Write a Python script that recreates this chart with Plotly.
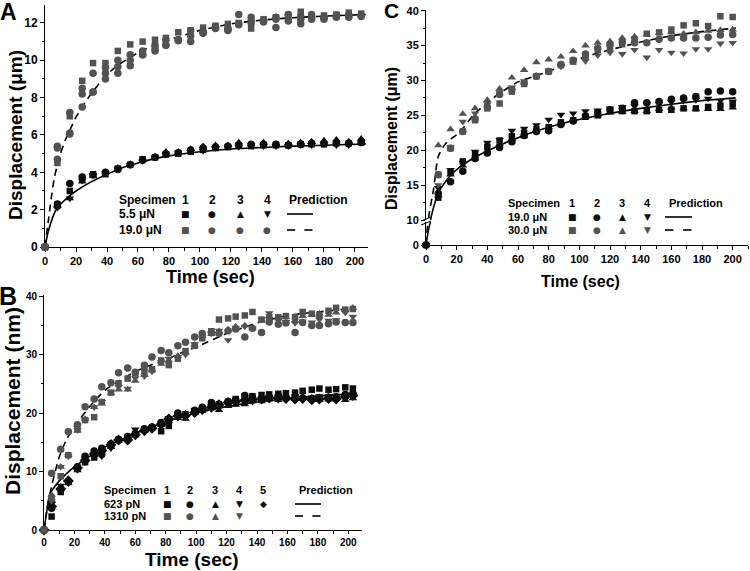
import plotly.graph_objects as go

W, H = 750, 571
FONT = "Liberation Sans"
SYMF = "DejaVu Sans"
BLACK = "#0d0d0d"
GREY = "#525252"

# ---------------- Panel A data ----------------
tA = [0, 8, 16, 24, 31, 39, 47, 55, 63, 71, 78, 86, 94, 102, 110, 118, 125, 133, 141, 149, 157, 165, 172, 180, 188, 196, 204]
A5_s1 = [0, 2.2, 3.0, 3.6, 3.9, 3.9, 4.2, 4.4, 4.7, 4.8, 4.95, 5.0, 5.1, 5.2, 5.3, 5.35, 5.45, 5.4, 5.45, 5.45, 5.45, 5.5, 5.5, 5.5, 5.55, 5.55, 5.6]
A5_s2 = [0, 2.3, 3.4, 3.75, 3.85, 4.0, 4.15, 4.4, 4.65, 4.8, 5.0, 5.05, 5.2, 5.3, 5.35, 5.4, 5.45, 5.5, 5.5, 5.5, 5.45, 5.5, 5.55, 5.55, 5.6, 5.55, 5.6]
A5_s3 = [0, 2.2, 2.6, 3.5, 3.8, 4.0, 4.25, 4.45, 4.7, 4.85, 5.1, 5.1, 5.25, 5.4, 5.45, 5.45, 5.6, 5.5, 5.6, 5.5, 5.55, 5.6, 5.65, 5.7, 5.75, 5.65, 5.8]
A5_s4 = [0, 2.1, 2.6, 3.55, 3.85, 3.95, 4.2, 4.4, 4.6, 4.8, 4.95, 5.05, 5.1, 5.15, 5.3, 5.35, 5.35, 5.45, 5.4, 5.4, 5.4, 5.45, 5.45, 5.5, 5.45, 5.45, 5.6]
A19_s1 = [0, 4.5, 7.0, 8.9, 9.85, 9.85, 10.5, 10.85, 11.0, 11.1, 11.2, 11.5, 11.6, 11.75, 11.85, 11.95, 12.0, 11.7, 12.2, 12.3, 12.3, 12.6, 12.3, 12.4, 12.45, 12.55, 12.5]
A19_s2 = [0, 4.7, 6.05, 7.5, 8.3, 9.0, 9.3, 9.7, 10.3, 10.5, 10.8, 11.1, 11.0, 11.5, 11.8, 11.65, 11.9, 12.0, 12.1, 11.75, 12.4, 11.95, 12.2, 12.3, 12.4, 12.4, 12.4]
A19_s3 = [0, 5.4, 7.2, 8.5, 9.3, 9.6, 10.0, 10.3, 10.5, 10.8, 11.1, 11.05, 11.6, 11.5, 11.75, 11.7, 12.45, 12.3, 12.15, 12.3, 12.45, 12.2, 12.45, 12.2, 12.3, 12.4, 12.35]
A19_s4 = [0, 5.3, 6.1, 8.2, 8.3, 9.3, 9.65, 10.0, 10.3, 10.6, 10.8, 11.1, 11.3, 11.45, 11.7, 11.6, 11.95, 12.1, 12.05, 12.2, 12.1, 12.35, 12.3, 12.25, 12.35, 12.3, 12.4]
tA5_pred = [0, 2, 4, 6, 8, 12, 16, 20, 30, 40, 50, 60, 70, 80, 100, 120, 140, 160, 180, 207]
A5_pred = [0, 0.8, 1.35, 1.8, 2.1, 2.45, 2.75, 3.0, 3.5, 3.9, 4.25, 4.5, 4.72, 4.88, 5.1, 5.25, 5.33, 5.4, 5.45, 5.52]
tA19_pred = [0, 2, 4, 6, 8, 10, 13, 16, 20, 28, 40, 50, 60, 70, 80, 100, 120, 140, 160, 180, 207]
A19_pred = [0, 1.3, 2.6, 3.7, 4.4, 5.0, 5.7, 6.25, 6.95, 8.0, 9.25, 9.9, 10.4, 10.8, 11.1, 11.6, 11.95, 12.15, 12.28, 12.36, 12.45]

# ---------------- Panel B data ----------------
tB = [0, 5, 11, 16, 22, 27, 33, 38, 44, 49, 55, 60, 66, 71, 77, 82, 88, 93, 99, 104,
      110, 115, 121, 126, 132, 137, 143, 148, 154, 159, 165, 170, 176, 181, 187, 192, 198, 203]
B623_s1 = [0, 2.3, 6.5, 8.2, 10.5, 11.6, 12.4, 13.0, 14.4, 15.4, 15.8, 16.4, 17.2, 17.5, 16.9, 17.8, 19.4, 19.8, 20.3, 20.7,
           21.3, 21.5, 21.9, 22.4, 22.8, 22.9, 23.1, 23.2, 23.3, 23.4, 23.5, 23.8, 24.0, 24.2, 24.0, 24.1, 24.4, 24.2]
B623_s2 = [0, 3.7, 7.0, 8.3, 10.8, 12.6, 13.5, 14.0, 14.7, 15.5, 16.0, 16.5, 17.3, 17.6, 18.4, 18.9, 20.0, 19.6, 20.5, 21.0,
           21.8, 21.5, 22.0, 22.3, 23.0, 22.7, 22.4, 22.6, 23.0, 22.7, 22.8, 22.6, 22.5, 22.6, 22.7, 22.8, 23.2, 23.3]
B623_s3 = [0, 5.0, 7.3, 8.0, 10.2, 12.0, 12.8, 13.4, 14.2, 15.2, 15.7, 16.2, 17.0, 17.4, 18.0, 18.6, 19.2, 19.0, 20.0, 20.4,
           20.8, 20.5, 21.2, 21.4, 21.5, 22.0, 22.0, 22.3, 22.2, 22.5, 22.4, 22.8, 22.4, 22.2, 22.3, 22.5, 22.2, 22.5]
B623_s4 = [0, 4.5, 7.6, 8.0, 10.4, 12.2, 12.8, 12.6, 14.0, 15.2, 15.6, 17.2, 17.0, 17.5, 18.3, 19.2, 19.6, 19.3, 20.4, 20.4,
           21.2, 21.0, 21.5, 21.9, 22.0, 22.4, 22.6, 22.8, 22.8, 22.6, 22.9, 22.6, 22.7, 22.9, 22.9, 23.0, 22.8, 23.2]
B623_s5 = [0, 4.0, 7.0, 8.4, 10.6, 11.9, 13.0, 13.6, 14.6, 15.4, 15.4, 16.3, 17.0, 17.4, 18.1, 19.0, 19.5, 19.6, 20.1, 20.6,
           21.0, 21.4, 21.8, 22.0, 22.2, 22.3, 22.4, 22.6, 22.6, 22.5, 22.4, 22.5, 22.3, 22.4, 22.5, 22.4, 22.8, 23.0]
B1310_s1 = [0, 5.5, 9.2, 12.8, 17.2, 18.8, 19.3, 21.9, 23.5, 25.1, 25.9, 26.8, 27.2, 27.5, 29.0, 28.2, 29.3, 30.6, 31.5, 32.8,
            34.0, 36.0, 36.2, 36.5, 36.7, 37.3, 36.0, 36.4, 36.4, 36.6, 36.4, 37.3, 37.0, 36.8, 37.5, 38.0, 37.7, 37.8]
B1310_s2 = [0, 9.7, 13.8, 16.8, 18.0, 21.1, 22.4, 24.5, 25.2, 26.9, 27.7, 27.0, 28.2, 29.6, 30.7, 30.3, 31.5, 32.1, 33.0, 33.6,
            33.8, 33.6, 34.1, 34.4, 33.0, 34.5, 33.8, 35.6, 35.2, 35.4, 33.8, 35.5, 35.0, 35.0, 35.3, 35.6, 35.5, 35.5]
B1310_s3 = [0, 6.0, 10.8, 12.8, 17.0, 19.0, 21.0, 21.6, 23.4, 24.0, 24.0, 25.5, 26.5, 27.3, 28.4, 29.0, 29.8, 30.3, 31.7, 33.2,
            33.5, 34.0, 34.3, 34.8, 35.0, 34.5, 35.8, 36.6, 36.2, 36.4, 35.8, 36.6, 36.8, 37.0, 36.8, 37.2, 37.6, 38.0]
B1310_s4 = [0, 5.0, 10.8, 12.6, 17.1, 18.8, 21.0, 21.9, 23.6, 24.5, 24.2, 26.0, 26.3, 27.1, 28.7, 29.3, 29.6, 30.0, 31.8, 32.9,
            33.6, 34.1, 32.5, 34.6, 34.8, 34.5, 36.0, 37.1, 35.9, 35.6, 35.4, 35.7, 35.5, 36.0, 35.8, 35.9, 37.2, 36.5]
tB623_pred = [0, 4, 7, 10, 15, 20, 30, 40, 50, 60, 70, 80, 90, 100, 120, 140, 160, 180, 203]
B623_pred = [0, 6.2, 7.4, 8.4, 9.7, 10.8, 12.6, 14.2, 15.4, 16.5, 17.5, 18.5, 19.3, 20.0, 21.1, 21.9, 22.5, 22.9, 23.3]
tB1310_pred = [0, 2, 5, 10, 15, 20, 30, 40, 50, 60, 70, 80, 90, 100, 120, 140, 160, 180, 203]
B1310_pred = [0, 3.5, 7.5, 12.5, 15.6, 17.7, 21.1, 23.9, 25.6, 27.1, 28.2, 29.1, 30.3, 31.3, 33.6, 35.4, 36.7, 37.3, 37.9]

# ---------------- Panel C data ----------------
tC = [0, 8, 16, 24, 32, 40, 48, 56, 64, 72, 80, 88, 96, 104, 112, 120, 128, 136, 144, 152, 160, 168, 176, 184, 192, 200]
C19_s1 = [0, 13.2, 16.8, 18.4, 19.5, 20.5, 21.4, 22.0, 22.5, 23.0, 23.3, 24.0, 24.3, 24.8, 25.0, 25.6, 25.6, 25.6, 25.6, 25.8, 25.8, 26.0, 26.0, 26.2, 26.4, 26.6]
C19_s2 = [0, 13.8, 15.5, 17.0, 18.8, 19.6, 20.4, 21.2, 22.1, 22.7, 22.8, 23.7, 24.2, 24.9, 25.4, 25.8, 26.0, 26.8, 26.8, 27.0, 27.3, 27.5, 27.7, 28.4, 28.5, 28.4]
C19_s3 = [0, 13.5, 16.5, 17.8, 18.8, 19.8, 20.9, 21.6, 22.0, 22.9, 23.3, 23.9, 24.4, 24.8, 25.0, 25.4, 25.5, 25.6, 25.6, 25.9, 26.1, 26.0, 25.9, 25.9, 25.9, 26.1]
C19_s4 = [0, 14.6, 17.2, 18.2, 19.8, 21.1, 21.5, 22.8, 23.1, 23.6, 24.4, 25.1, 25.3, 25.6, 25.7, 26.0, 26.2, 26.3, 26.6, 26.6, 26.9, 27.1, 27.2, 27.4, 27.1, 27.0]
C30_s1 = [0, 16.5, 20.3, 22.7, 24.3, 26.0, 26.7, 28.4, 29.5, 30.6, 31.3, 32.2, 32.7, 33.5, 34.4, 34.7, 35.2, 35.9, 36.7, 36.9, 37.3, 37.9, 38.2, 37.8, 39.2, 39.1]
C30_s2 = [0, 16.5, 20.3, 22.7, 24.5, 26.2, 28.0, 28.7, 29.6, 30.6, 31.3, 32.3, 32.9, 33.8, 34.6, 35.1, 35.5, 35.4, 35.4, 35.9, 36.1, 36.1, 36.1, 36.2, 36.5, 36.6]
C30_s3 = [0, 20.7, 23.0, 25.2, 26.0, 27.2, 28.8, 30.4, 31.5, 32.6, 33.0, 33.4, 34.2, 35.0, 35.4, 35.6, 36.1, 36.3, 36.6, 36.8, 36.9, 36.7, 36.9, 37.1, 37.2, 37.3]
C30_s4 = [0, 15.0, 20.4, 24.1, 25.3, 26.6, 28.3, 29.0, 29.9, 30.6, 31.4, 32.0, 33.0, 32.8, 33.6, 34.0, 33.8, 34.4, 33.3, 34.4, 34.0, 33.9, 34.5, 34.5, 35.3, 35.4]
tC19_pred = [0, 3, 8, 16, 24, 32, 40, 50, 60, 70, 80, 90, 100, 120, 140, 160, 180, 202]
C19_pred = [0, 10, 13.9, 16.4, 17.9, 19.0, 19.9, 20.9, 21.8, 22.6, 23.3, 23.9, 24.4, 25.3, 26.0, 26.6, 27.1, 27.5]
tC30_pred = [0, 1.5, 5, 8, 13, 22, 32, 47, 60, 72, 80, 90, 100, 110, 120, 140, 160, 180, 202]
C30_pred = [0, 10, 14.5, 19.1, 21.0, 22.6, 25.3, 28.0, 29.8, 30.7, 31.3, 32.2, 33.1, 33.8, 34.4, 35.5, 36.4, 37.0, 37.5]

# ---------------- figure ----------------
def px(x):
    return x / W

def py(y):
    return 1 - y / H

fig = go.Figure()

def markers(t, ys, symbol, color, size, xa, ya, clip=False):
    fig.add_trace(go.Scatter(
        x=t, y=ys, mode="markers", xaxis=xa, yaxis=ya, cliponaxis=clip,
        marker=dict(symbol=symbol, color=color, size=size, line=dict(width=0)),
        showlegend=False, hoverinfo="skip"))

def line(t, ys, dash, xa, ya):
    fig.add_trace(go.Scatter(
        x=t, y=ys, mode="lines", xaxis=xa, yaxis=ya,
        line=dict(color="black", width=1.6, dash=dash, shape="spline", smoothing=0.6),
        showlegend=False, hoverinfo="skip"))

SZ = dict(square=6.5, circle=7.5, **{"triangle-up": 7.5, "triangle-down": 7.5, "diamond": 8.5})

# Panel A
line(tA5_pred, A5_pred, "solid", "x", "y")
line(tA19_pred, A19_pred, "7px,5px", "x", "y")
for ys, sym in [(A5_s1, "square"), (A5_s2, "circle"), (A5_s3, "triangle-up"), (A5_s4, "triangle-down")]:
    markers(tA, ys, sym, BLACK, SZ[sym], "x", "y")
for ys, sym in [(A19_s1, "square"), (A19_s2, "circle"), (A19_s3, "circle"), (A19_s4, "circle")]:
    markers(tA, ys, sym, GREY, SZ[sym], "x", "y")

# Panel B
line(tB623_pred, B623_pred, "solid", "x2", "y2")
line(tB1310_pred, B1310_pred, "7px,5px", "x2", "y2")
for ys, sym in [(B623_s1, "square"), (B623_s2, "circle"), (B623_s3, "triangle-up"), (B623_s4, "triangle-down"), (B623_s5, "diamond")]:
    markers(tB, ys, sym, BLACK, SZ[sym], "x2", "y2")
for ys, sym in [(B1310_s1, "square"), (B1310_s2, "circle"), (B1310_s3, "triangle-up"), (B1310_s4, "triangle-down")]:
    markers(tB, ys, sym, GREY, SZ[sym], "x2", "y2")

# Panel C (broken axis: lower y3 0-10, upper y4 10-40)
for ya in ["y3", "y4"]:
    line(tC19_pred, C19_pred, "solid", "x3", ya)
    line(tC30_pred, C30_pred, "7px,5px", "x3", ya)
for ys, sym in [(C19_s1, "square"), (C19_s2, "circle"), (C19_s3, "triangle-up"), (C19_s4, "triangle-down")]:
    markers(tC[1:], ys[1:], sym, BLACK, SZ[sym], "x3", "y4")
    markers(tC[:1], ys[:1], sym, BLACK, SZ[sym], "x3", "y3")
for ys, sym in [(C30_s1, "square"), (C30_s2, "circle"), (C30_s3, "triangle-up"), (C30_s4, "triangle-down")]:
    markers(tC[1:], ys[1:], sym, GREY, SZ[sym], "x3", "y4")


def ax(rng, domain, anchor, dtick, minor, tsize, **kw):
    d = dict(range=rng, domain=domain, anchor=anchor, showgrid=False, zeroline=False,
             showline=True, linecolor="black", linewidth=1, mirror=False,
             ticks="outside", ticklen=4, tickwidth=1, tickcolor="black",
             tick0=0, dtick=dtick,
             tickfont=dict(family=FONT, size=tsize, color="black", weight="bold"),
             layer="below traces", fixedrange=True, automargin=False)
    if minor:
        d["minor"] = dict(dtick=minor, tick0=0, ticks="outside", ticklen=2.5, tickwidth=1,
                          tickcolor="black", showgrid=False)
    d.update(kw)
    return d

fig.update_layout(
    width=W, height=H, margin=dict(l=0, r=0, t=0, b=0, pad=0, autoexpand=False),
    paper_bgcolor="white", plot_bgcolor="white", showlegend=False,
    xaxis=ax([0, 208.4], [px(45), px(368)], "y", 20, 10, 11),
    yaxis=ax([0, 12.96], [py(247), py(5)], "x", 2, 1, 12),
    xaxis2=ax([0, 209], [px(44), px(362)], "y2", 20, 10, 10, ticklen=3),
    yaxis2=ax([0, 40.2], [py(530), py(295)], "x2", 10, 5, 10),
    xaxis3=ax([0, 210], [px(426), px(748)], "y3", 20, 10, 11),
    yaxis3=ax([0, 10], [py(245), py(222)], "x3", 10, None, 11, tickvals=[0]),
    yaxis4=ax([10, 40.1], [py(220), py(10)], "x3", 5, 2.5, 11),
)

ann = []

def text(x, y, s, size, xanchor="center", color="black", family=FONT, angle=0, bold=True, pad=1):
    ann.append(dict(x=px(x), y=py(y), xref="paper", yref="paper", text=s, showarrow=False,
                    xanchor=xanchor, yanchor="middle", textangle=angle, borderpad=pad,
                    font=dict(family=family, size=size, color=color,
                              weight="bold" if bold else "normal")))

# panel letters
text(8, 12, "A", 23)
text(8, 296, "B", 25)
text(392, 11, "C", 21)

# axis titles
text(16, 135, "Displacement (μm)", 19, angle=-90)
text(210, 277, "Time (sec)", 18)
text(12, 401, "Displacement (nm)", 21, angle=-90)
text(192, 559, "Time (sec)", 19, pad=0)
text(391, 139, "Displacement (μm)", 16, angle=-90)
text(580, 281, "Time (sec)", 16)

shapes = []

def seg(x0, y0, x1, y1, w=1.6):
    shapes.append(dict(type="line", xref="paper", yref="paper", x0=px(x0), y0=py(y0),
                       x1=px(x1), y1=py(y1), line=dict(color="black", width=w)))

SYM = {"square": "■", "circle": "●", "triangle-up": "▲", "triangle-down": "▼", "diamond": "◆"}

def legend(x_lab, cols, x_pred, ys, specimens, labels, row_syms, fs, symsize, line_x):
    y0, y1, y2 = ys
    text(x_lab, y0, "Specimen", fs, xanchor="left")
    for c, s in zip(cols, specimens):
        text(c, y0, s, fs)
    text(x_pred, y0, "Prediction", fs, xanchor="left")
    text(x_lab, y1, labels[0], fs, xanchor="left")
    text(x_lab, y2, labels[1], fs, xanchor="left")
    for c, s in zip(cols, row_syms[0]):
        text(c, y1, SYM[s], symsize, color=BLACK, family=SYMF, bold=False)
    for c, s in zip(cols, row_syms[1]):
        text(c, y2, SYM[s], symsize, color=GREY, family=SYMF, bold=False)
    a, b = line_x
    seg(a, y1, b, y1)
    d = (b - a) / 3.2
    seg(a, y2, a + d, y2)
    seg(b - d - 0.5, y2, b - 0.5, y2)

legend(117, [185, 212, 240, 267], 287, (200, 214, 230), ["1", "2", "3", "4"],
       ["5.5 μN", "19.0 μN"],
       [["square", "circle", "triangle-up", "triangle-down"], ["square", "circle", "circle", "circle"]],
       12, 9, (287, 313))
legend(102, [167, 190, 215, 239, 263], 297, (490, 504, 516), ["1", "2", "3", "4", "5"],
       ["623 pN", "1310 pN"],
       [["square", "circle", "triangle-up", "triangle-down", "diamond"], ["square", "circle", "triangle-up", "triangle-down"]],
       11, 9, (295, 321))
legend(506, [572, 597, 622, 647], 667, (203, 217, 230), ["1", "2", "3", "4"],
       ["19.0 μN", "30.0 μN"],
       [["square", "circle", "triangle-up", "triangle-down"], ["square", "circle", "triangle-up", "triangle-down"]],
       11, 9, (665, 692))

# axis break marks on panel C
seg(421, 225, 431, 221, 1)
seg(421, 221, 431, 217, 1)

fig.update_layout(annotations=ann, shapes=shapes)
fig.write_html("out.html", config={"displayModeBar": False},
               post_script="document.body.style.margin='0';document.body.style.overflow='hidden';")
